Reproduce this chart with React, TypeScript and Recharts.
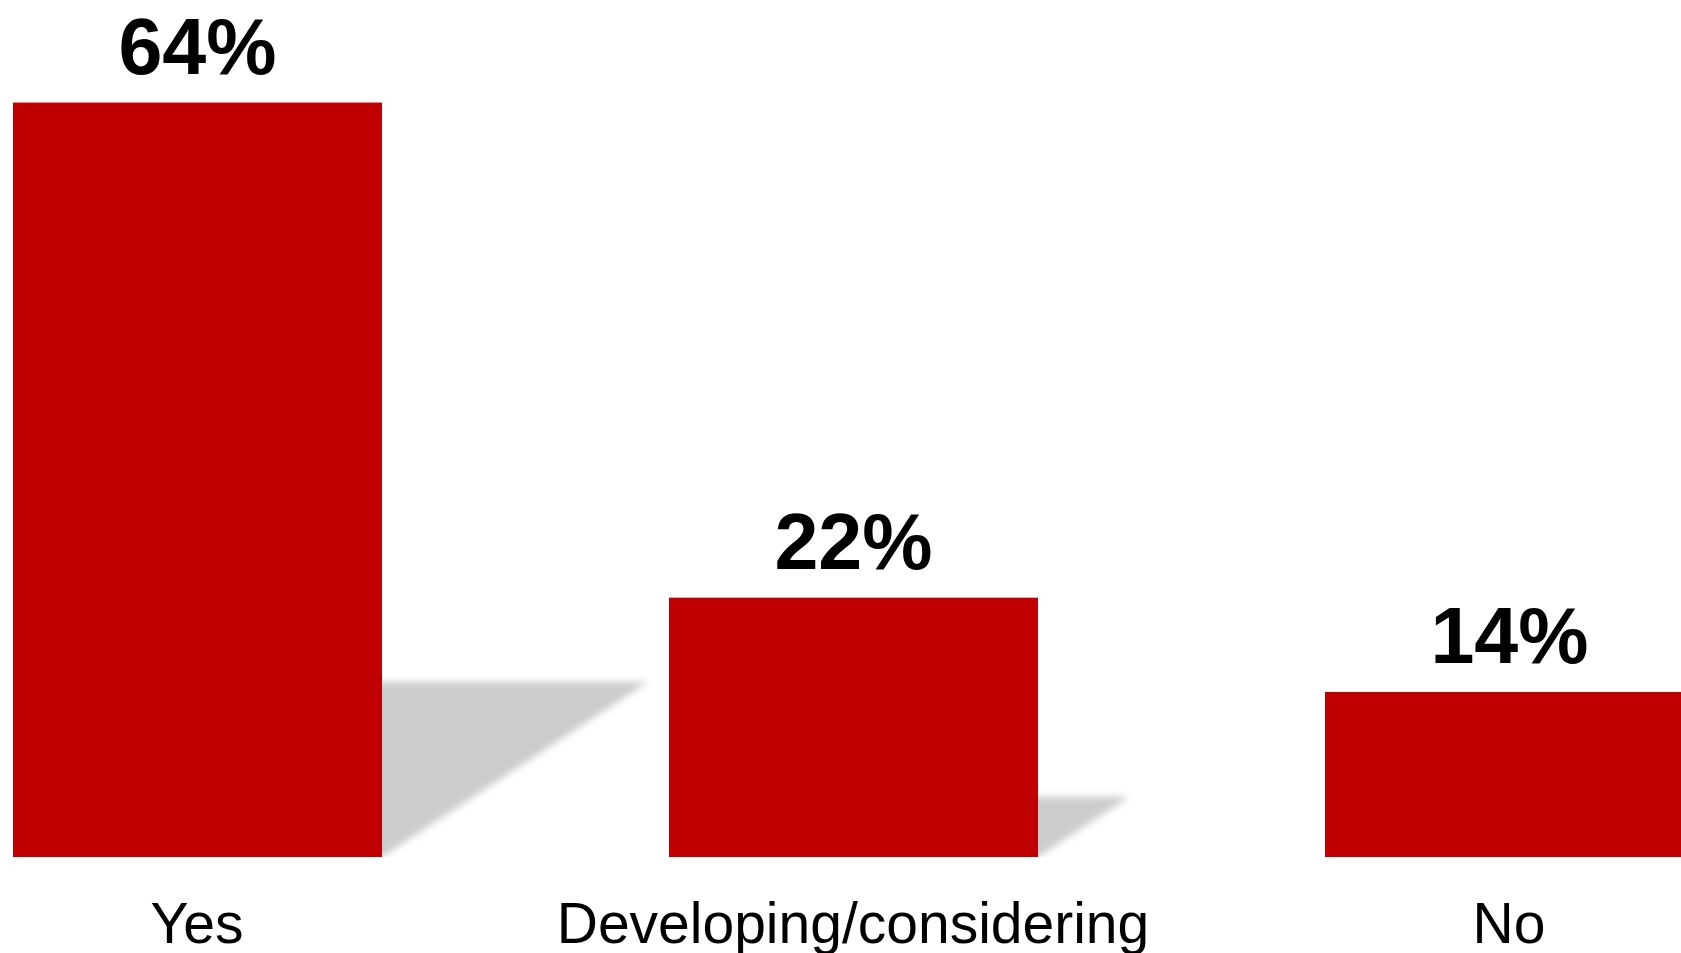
import { BarChart, Bar, XAxis, YAxis, LabelList } from "recharts";

const categories = ["Yes", "Developing/considering", "No"];
const shares = [64, 22, 14];

const data = categories.map((name, i) => ({ name, value: shares[i] }));

const RED = "#C00000";
const FONT = '"Liberation Sans", Arial, Helvetica, sans-serif';

// bar with a soft skewed shadow cast up and to the right
function ShadowBar(props: any) {
  const { x, y, width, height } = props;
  const bottom = y + height;
  const sh = height * 0.232;
  const dx = sh * 1.52;
  const pts = [
    [x, bottom],
    [x + width, bottom],
    [x + width + dx, bottom - sh],
    [x + dx, bottom - sh],
  ]
    .map((p) => p.join(","))
    .join(" ");
  return (
    <g>
      <defs>
        <filter id="barShadowBlur" x="-20%" y="-20%" width="140%" height="140%">
          <feGaussianBlur stdDeviation="3.5" />
        </filter>
      </defs>
      <polygon points={pts} fill="#cccccc" filter="url(#barShadowBlur)" />
      <rect x={x} y={y} width={width} height={height} fill={RED} />
    </g>
  );
}

function CategoryTick(props: any) {
  const { x, y, payload } = props;
  return (
    <text
      x={x}
      y={y}
      dy={86}
      textAnchor="middle"
      fontFamily={FONT}
      fontSize={57}
      fill="#000"
    >
      {payload.value}
    </text>
  );
}

export default function App() {
  return (
    <div
      style={{
        position: "absolute",
        left: 0,
        top: 0,
        width: 1681,
        height: 953,
        overflow: "hidden",
        background: "#fff",
      }}
    >
      <div style={{ position: "relative", left: -131 }}>
        <BarChart
          width={1968}
          height={953}
          data={data}
          margin={{ top: 0, right: 0, bottom: 0, left: 0 }}
          barSize={369}
        >
          <XAxis
            dataKey="name"
            axisLine={false}
            tickLine={false}
            tickSize={0}
            tickMargin={0}
            height={96}
            interval={0}
            tick={<CategoryTick />}
          />
          <YAxis hide domain={[0, 72.7]} allowDataOverflow />
          <Bar dataKey="value" shape={<ShadowBar />} isAnimationActive={false}>
            <LabelList
              dataKey="value"
              position="top"
              offset={29}
              formatter={(v: any) => `${v}%`}
              style={{
                fontFamily: FONT,
                fontSize: 79,
                fontWeight: "bold",
                fill: "#000",
              }}
            />
          </Bar>
        </BarChart>
      </div>
    </div>
  );
}
